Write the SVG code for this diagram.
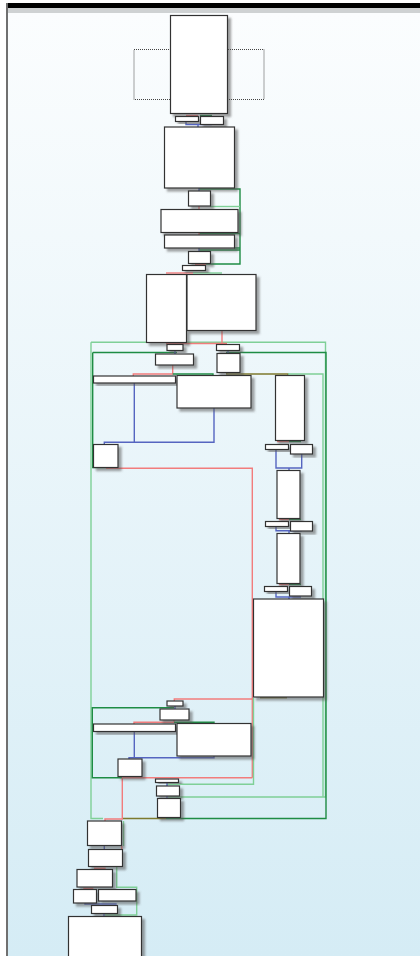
<svg xmlns="http://www.w3.org/2000/svg" width="420" height="956" viewBox="0 0 420 956">
<defs>
<linearGradient id="bg" x1="0" y1="0" x2="0" y2="1">
<stop offset="0" stop-color="#fbfdfe"/>
<stop offset="1" stop-color="#d5ecf5"/>
</linearGradient>
<filter id="sh" x="-20%" y="-20%" width="160%" height="160%">
<feDropShadow dx="3" dy="3" stdDeviation="1" flood-color="#555" flood-opacity="0.55"/>
</filter>
<style>
.n{fill:#fff;stroke:#333;stroke-width:1.2;filter:url(#sh)}
.e path{fill:none;stroke-width:1.4}
.r{stroke:#f27c7c}
.g{stroke:#1e8c44}
.lg{stroke:#7fd097}
.b{stroke:#5565c0}
.o{stroke:#7d7a2e}
</style>
</defs>
<rect x="0" y="0" width="420" height="956" fill="#fff"/>
<rect x="8" y="13" width="412" height="943" fill="url(#bg)"/>
<rect x="6" y="3" width="414" height="5" fill="#000"/>
<rect x="8" y="8" width="412" height="5" fill="#cfd2d3"/>
<rect x="6" y="3" width="2" height="953" fill="#707070"/>

<g id="connectors" class="e">
<path class="r" d="M186,115.5 H198"/>
<path class="g" d="M200,115.5 H212"/>
<path class="b" d="M186,121 V124.5 H200 M211,124 V124.5 H198 V127"/>
<path class="g" d="M199,189 H240 V264 H200"/>
<path class="b" d="M199,188 V191"/>
<path class="lg" d="M210,206.5 H240"/>
<path class="r" d="M199,206 V209"/>
<path class="g" d="M199,233.5 H240 M234,248 H240 M199,250 H240"/>
<path class="r" d="M199,232 V235"/>
<path class="b" d="M199,248 V251"/>
<path class="r" d="M195,264.5 H206"/>
<path class="r" d="M166,273 H193"/>
<path class="lg" d="M193,273 H222"/>
<path class="lg" d="M91,342.3 H325.5 V797 H168 M91,342.3 V818.5 H103"/>
<path class="r" d="M222,330 V343.5 M166,343.5 H227"/>
<path class="g" d="M92.7,352.5 H177 M226,352.5 H326 V818.5 H166"/>
<path class="o" d="M123,818.5 H166"/>
<path class="b" d="M175,350 V354 M228,350 V353"/>
<path class="r" d="M172.7,365 V374 H133.3 V376"/>
<path class="g" d="M172.7,374 H213 V375"/>
<path class="o" d="M226.7,373 V374 H288 V375"/>
<path class="lg" d="M288,374 H323 V796.7"/>
<path class="b" d="M134.3,383 V442.3 H104.3 V444 M214,408 V442.3 H134"/>
<path class="g" d="M92.7,352.5 V467.5 H106"/>
<path class="r" d="M106,468.3 H252.3 V777.7"/>
<path class="r" d="M277,441.5 H289"/>
<path class="g" d="M289,441.5 H301"/>
<path class="b" d="M276,449 V468 H301.7 V454 M289,468 V470"/>
<path class="r" d="M279,519.5 H289"/>
<path class="g" d="M289,519.5 H301"/>
<path class="b" d="M276,526 V530.7 H301.7 M289,530.7 V533"/>
<path class="r" d="M279,584.5 H289"/>
<path class="g" d="M289,584.5 H301"/>
<path class="b" d="M276,592 V597 H301 M289,597 V599"/>
<path class="o" d="M260,697.7 H287"/>
<path class="lg" d="M253.5,698 V784.3 H167"/>
<path class="r" d="M252.3,699 H174.3 V701"/>
<path class="b" d="M175,706 V709"/>
<path class="g" d="M174,707.7 H92.3 V777.7 H122"/>
<path class="r" d="M174,720 V722.3 H134 V724"/>
<path class="g" d="M174,722.3 H214 V723"/>
<path class="b" d="M134.3,732 V757.7 H129 V759 M214,756 V757.7 H134"/>
<path class="r" d="M122,777.7 H252.3 M122.3,777.7 V819 H105 V821"/>
<path class="b" d="M167,782.5 V786 M167,796 V798"/>
<path class="lg" d="M123.5,821 V846"/>
<path class="b" d="M104.3,846 V849"/>
<path class="r" d="M121.7,846 V849"/>
<path class="r" d="M94,868.3 H105 V869"/>
<path class="lg" d="M116.7,867 V887.3 H136.7 V915 H105"/>
<path class="r" d="M83.3,888.3 H93.3"/>
<path class="b" d="M85,903 V904 H116.7 M104,913 V916"/>
</g>

<rect x="134" y="49.5" width="130" height="50" fill="none" stroke="#444" stroke-width="1" stroke-dasharray="1,1"/>

<g id="n1"><rect class="n" x="170.5" y="15.5" width="57" height="98"/></g>
<g id="n2"><rect class="n" x="175.5" y="116.5" width="23" height="5"/></g>
<g id="n3"><rect class="n" x="200.5" y="116.5" width="23" height="8"/></g>
<g id="n4"><rect class="n" x="164.5" y="127" width="70" height="61"/></g>
<g id="n5"><rect class="n" x="188.5" y="191" width="22" height="15"/></g>
<g id="n6"><rect class="n" x="161" y="209.5" width="77" height="23"/></g>
<g id="n7"><rect class="n" x="164.5" y="235" width="70" height="13"/></g>
<g id="n8"><rect class="n" x="188.5" y="251.5" width="22" height="12"/></g>
<g id="n9"><rect class="n" x="182.5" y="265.5" width="23" height="5"/></g>
<g id="n10"><rect class="n" x="146.5" y="274.5" width="40" height="68"/></g>
<g id="n11"><rect class="n" x="187" y="274.5" width="69" height="56"/></g>
<g id="n12"><rect class="n" x="167" y="344.5" width="16" height="6"/></g>
<g id="n13"><rect class="n" x="216.5" y="344.5" width="23" height="6"/></g>
<g id="n14"><rect class="n" x="155.5" y="354" width="38" height="11"/></g>
<g id="n15"><rect class="n" x="217" y="353.5" width="23" height="19"/></g>
<g id="n16"><rect class="n" x="93.5" y="376" width="82" height="7"/></g>
<g id="n17"><rect class="n" x="177" y="375.5" width="74" height="32.5"/></g>
<g id="n18"><rect class="n" x="275.5" y="375.5" width="29" height="65"/></g>
<g id="n19"><rect class="n" x="93.5" y="444.5" width="24.5" height="23"/></g>
<g id="n20"><rect class="n" x="265.5" y="444.5" width="23" height="5"/></g>
<g id="n21"><rect class="n" x="290.5" y="444.5" width="22" height="9.5"/></g>
<g id="n22"><rect class="n" x="277" y="470.5" width="23" height="48"/></g>
<g id="n23"><rect class="n" x="265.5" y="521.5" width="23" height="5"/></g>
<g id="n24"><rect class="n" x="290.5" y="521.5" width="22" height="9.5"/></g>
<g id="n25"><rect class="n" x="277" y="533.5" width="23" height="50"/></g>
<g id="n26"><rect class="n" x="264.5" y="586.5" width="23" height="5"/></g>
<g id="n27"><rect class="n" x="289.5" y="586.5" width="22" height="9.5"/></g>
<g id="n28"><rect class="n" x="253.5" y="599" width="70" height="98"/></g>
<g id="n29"><rect class="n" x="167" y="701" width="16" height="5"/></g>
<g id="n30"><rect class="n" x="160" y="709" width="29" height="11"/></g>
<g id="n31"><rect class="n" x="93.5" y="724" width="82" height="7.5"/></g>
<g id="n32"><rect class="n" x="177" y="723.5" width="74" height="32.5"/></g>
<g id="n33"><rect class="n" x="118" y="759" width="24" height="17.5"/></g>
<g id="n34"><rect class="n" x="155.5" y="779" width="23" height="3.5"/></g>
<g id="n35"><rect class="n" x="156.5" y="786" width="23" height="10"/></g>
<g id="n36"><rect class="n" x="157.5" y="798.5" width="23" height="19"/></g>
<g id="n37"><rect class="n" x="87.5" y="821" width="34" height="24.5"/></g>
<g id="n38"><rect class="n" x="88.5" y="849.5" width="34" height="17"/></g>
<g id="n39"><rect class="n" x="77" y="869.5" width="35.5" height="17.5"/></g>
<g id="n40"><rect class="n" x="73.5" y="889.5" width="23" height="13.5"/></g>
<g id="n41"><rect class="n" x="98.5" y="889.5" width="37.5" height="11.5"/></g>
<g id="n42"><rect class="n" x="91.5" y="905.5" width="26" height="8"/></g>
<g id="n43"><rect class="n" x="68.5" y="916.5" width="73" height="45"/></g>
</svg>
